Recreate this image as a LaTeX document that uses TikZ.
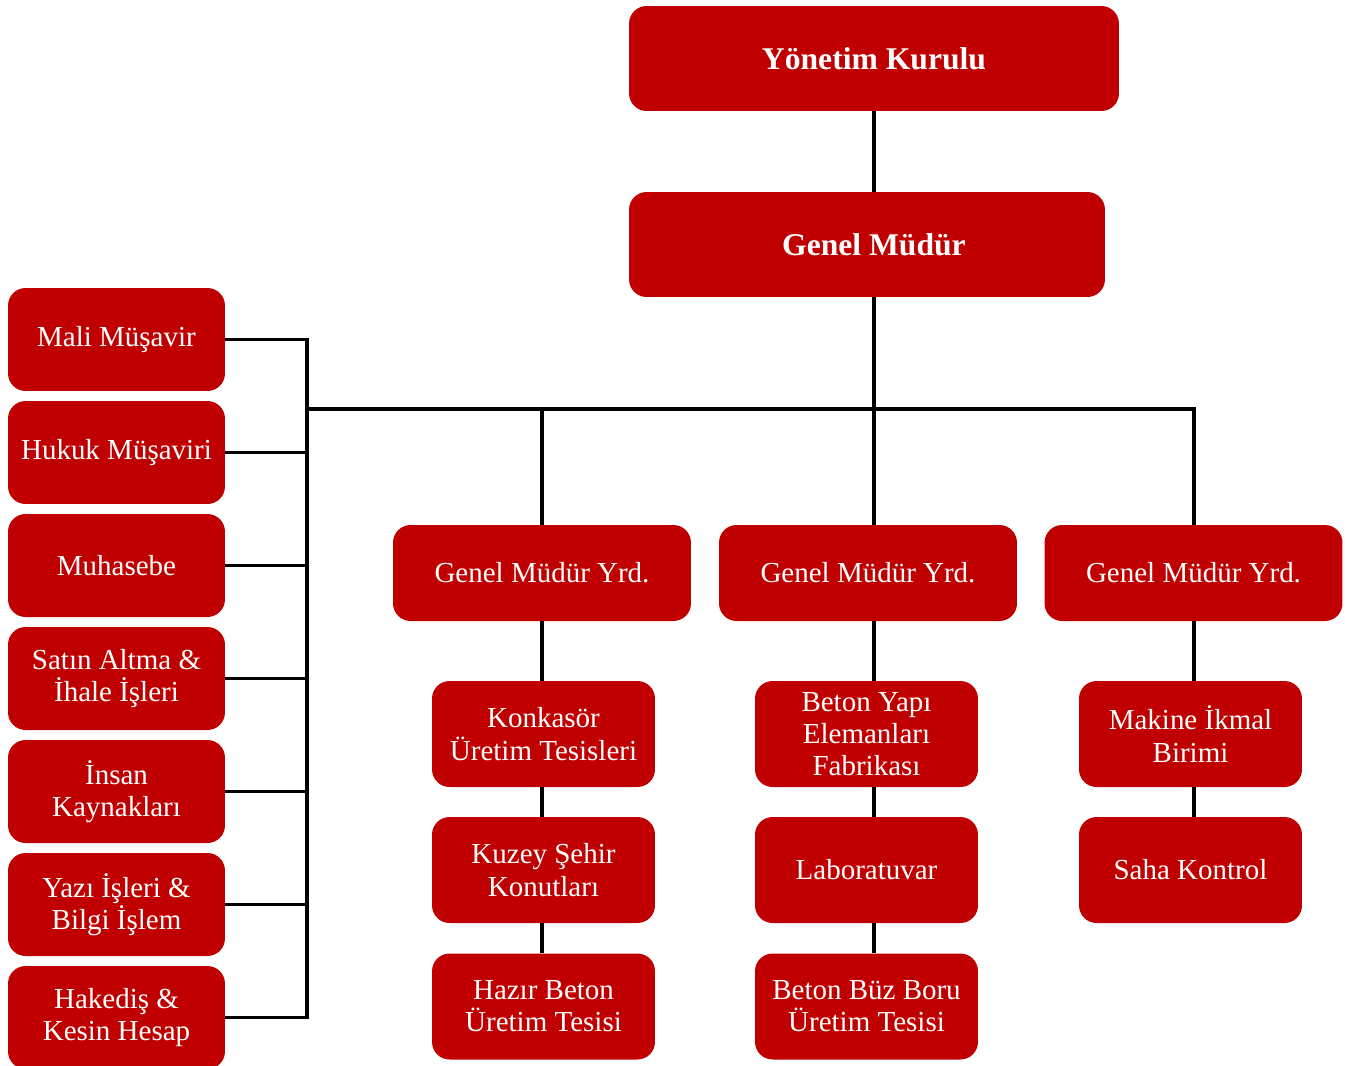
\documentclass[tikz,border=0pt]{standalone}
\usepackage{fontspec}
\setmainfont{Liberation Serif}
\usetikzlibrary{positioning,calc}
\definecolor{kurumkirmizi}{HTML}{C00000}
\tikzset{
  birim/.style={rectangle,rounded corners=10pt,fill=kurumkirmizi,text=white,inner sep=2pt,align=center,font=\fontsize{16.5}{18.3}\selectfont},
  ustbirim/.style={birim,minimum height=2.1cm,font=\fontsize{18}{20}\selectfont\bfseries},
  solbirim/.style={birim,minimum width=4.34cm,minimum height=2.06cm},
  yrdbirim/.style={birim,minimum width=5.96cm,minimum height=1.92cm},
  altbirim/.style={birim,minimum width=4.46cm,minimum height=2.12cm},
  hat/.style={line width=2pt,black}
}
\begin{document}
\begin{tikzpicture}[x=0.02cm,y=-0.02cm]
  \useasboundingbox (0,0) rectangle (1345,1065);

  % Yonetim
  \node[ustbirim, minimum width=9.8cm] (yk) at (874,58.5) {Yönetim Kurulu};
  \node[ustbirim, minimum width=9.52cm] (gm) at (867,244.5) {\hspace{0.28cm}Genel Müdür};

  % Sol birimler
  \node[solbirim] (mali) at (116.5,339.5) {Mali Müşavir};
  \node[solbirim] (hukuk) at (116.5,452.5) {Hukuk Müşaviri};
  \node[solbirim] (muh) at (116.5,565.5) {Muhasebe};
  \node[solbirim] (satin) at (116.5,678.5) {Satın Altma \&\\İhale İşleri};
  \node[solbirim] (insan) at (116.5,791.5) {İnsan\\Kaynakları};
  \node[solbirim] (yazi) at (116.5,904.5) {Yazı İşleri \&\\Bilgi İşlem};
  \node[solbirim] (hak) at (116.5,1017.5) {Hakediş \&\\Kesin Hesap};

  % Genel Mudur Yardimcilari
  \node[yrdbirim] (gmy1) at (542,573) {Genel Müdür Yrd.};
  \node[yrdbirim] (gmy2) at (868,573) {Genel Müdür Yrd.};
  \node[yrdbirim] (gmy3) at (1193.5,573) {Genel Müdür Yrd.};

  % Alt birimler
  \node[altbirim] (kon) at (543.5,734) {Konkasör\\Üretim Tesisleri};
  \node[altbirim] (kuzey) at (543.5,870) {Kuzey Şehir\\Konutları};
  \node[altbirim] (hazir) at (543.5,1006.5) {Hazır Beton\\Üretim Tesisi};
  \node[altbirim] (beton) at (866.5,734) {Beton Yapı\\Elemanları\\Fabrikası};
  \node[altbirim] (lab) at (866.5,870) {Laboratuvar};
  \node[altbirim] (buz) at (866.5,1006.5) {Beton Büz Boru\\Üretim Tesisi};
  \node[altbirim] (makine) at (1190.5,734) {Makine İkmal\\Birimi};
  \node[altbirim] (saha) at (1190.5,870) {Saha Kontrol};

  % Baglantilar
  \coordinate (busL) at (307,409);
  \coordinate (busR) at (1194,409);
  \draw[hat] (yk.south) -- (yk.south |- gm.north);
  \draw[hat] (yk.south |- gm.south) -- (yk.south |- gmy2.north);
  \draw[hat] (busL) -- (busR) -- (busR |- gmy3.north);
  \draw[hat] (gmy1.north |- busL) -- (gmy1.north);
  \draw[hat] (mali.east) -- (mali.east -| busL) -- (hak.east -| busL) -- (hak.east);
  \foreach \b in {hukuk,muh,satin,insan,yazi}
    \draw[hat] (\b.east) -- (\b.east -| busL);

  \draw[hat] (gmy1.south) -- (gmy1.south |- kon.north);
  \draw[hat] (gmy1.south |- kon.south) -- (gmy1.south |- kuzey.north);
  \draw[hat] (gmy1.south |- kuzey.south) -- (gmy1.south |- hazir.north);
  \draw[hat] (yk.south |- gmy2.south) -- (yk.south |- beton.north);
  \draw[hat] (yk.south |- beton.south) -- (yk.south |- lab.north);
  \draw[hat] (yk.south |- lab.south) -- (yk.south |- buz.north);
  \draw[hat] (busR |- gmy3.south) -- (busR |- makine.north);
  \draw[hat] (busR |- makine.south) -- (busR |- saha.north);
\end{tikzpicture}
\end{document}
